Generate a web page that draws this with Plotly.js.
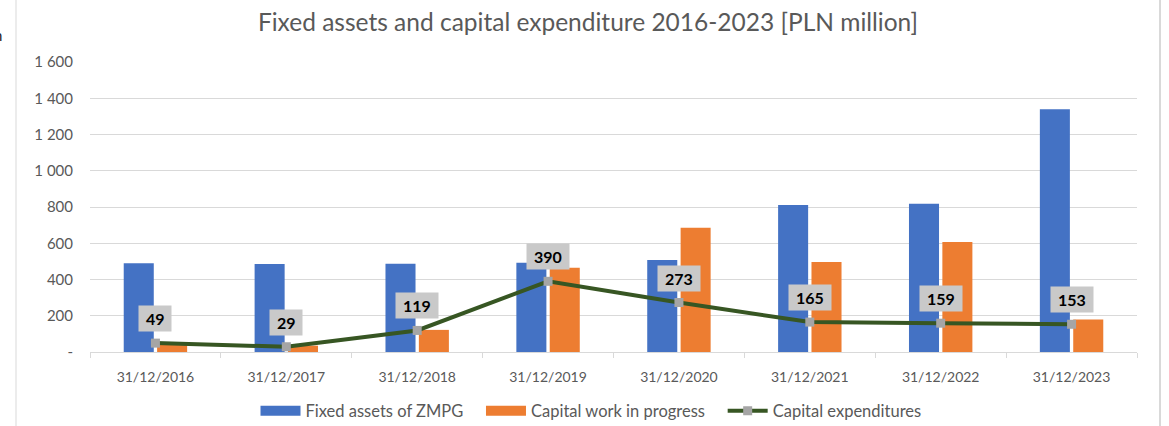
<!DOCTYPE html>
<html>
<head>
<meta charset="utf-8">
<script src="https://cdn.plot.ly/plotly-3.0.1.min.js"></script>
<style>html,body{margin:0;padding:0;background:#fff;}#chart{width:1169px;height:426px;}</style>
</head>
<body>
<div id="chart"></div>
<script>
var categories = ["31/12/2016","31/12/2017","31/12/2018","31/12/2019","31/12/2020","31/12/2021","31/12/2022","31/12/2023"];
var fixedAssets = [490, 485, 487, 493, 507, 811, 818, 1339];
var capitalWIP = [40, 35, 122, 465, 686, 497, 607, 180];
var capex = [49, 29, 119, 390, 273, 165, 159, 153];
var yTickVals = [0, 200, 400, 600, 800, 1000, 1200, 1400, 1600];
var yTickText = ["-", "200", "400", "600", "800", "1 000", "1 200", "1 400", "1 600"];
var seriesNames = ["Fixed assets of ZMPG", "Capital work in progress", "Capital expenditures"];
var titleText = "Fixed assets and capital expenditure 2016-2023 [PLN million]";

var FONT = "Lato, 'Open Sans', sans-serif";
var TXT = "#595959";
var BLUE = "#4472C4", ORANGE = "#ED7D31", GREEN = "#375623", GRAY = "#A5A5A5";
var PAD = "\u00A0\u00A0\u00A0";

var traces = [
  {type:"bar", name:seriesNames[0], x:categories, y:fixedAssets, marker:{color:BLUE}, hoverinfo:"skip", showlegend:false},
  {type:"bar", name:seriesNames[1], x:categories, y:capitalWIP, marker:{color:ORANGE}, hoverinfo:"skip", showlegend:false},
  {type:"scatter", mode:"lines+markers", name:seriesNames[2], x:categories, y:capex,
   line:{color:GREEN, width:4}, marker:{symbol:"square", size:9, color:GRAY}, hoverinfo:"skip", showlegend:false},
  // legend-only entries (wide rectangle swatches like the reference)
  {type:"scatter", mode:"lines", name:seriesNames[0]+PAD, x:[categories[0]], y:[null], line:{color:BLUE, width:10}, hoverinfo:"skip", legendrank:1},
  {type:"scatter", mode:"lines", name:seriesNames[1]+PAD, x:[categories[0]], y:[null], line:{color:ORANGE, width:10}, hoverinfo:"skip", legendrank:2},
  {type:"scatter", mode:"lines+markers", name:seriesNames[2], x:[categories[0]], y:[null], line:{color:GREEN, width:4},
   marker:{symbol:"square", size:9, color:GRAY}, hoverinfo:"skip", legendrank:3}
];

var annotations = categories.map(function(c, i){
  return {x:c, y:capex[i], xref:"x", yref:"y", text:"<b>\u00A0"+capex[i]+"\u00A0</b>", showarrow:false,
    xanchor:"center", yanchor:"bottom", yshift:11,
    font:{family:FONT, size:16, color:"#000"}, bgcolor:"#C9C9C9", borderpad:3};
});
annotations.push({xref:"paper", yref:"paper", x:(4-90)/1047, y:(352-35)/290, xanchor:"right", yanchor:"middle",
  text:"n", showarrow:false, font:{family:FONT, size:15, color:"#222"}});

var shapes = [
  {type:"line", xref:"paper", yref:"paper", x0:(16-90)/1047, x1:(16-90)/1047, y0:-74/290, y1:352/290, line:{color:"#D9D9D9", width:1}},
  {type:"line", xref:"paper", yref:"paper", x0:(1160-90)/1047, x1:(1160-90)/1047, y0:-74/290, y1:352/290, line:{color:"#D9D9D9", width:2}}
];

var layout = {
  width:1169, height:426,
  margin:{l:90, r:32, t:62, b:74, autoexpand:false},
  paper_bgcolor:"#fff", plot_bgcolor:"#fff",
  font:{family:FONT, color:TXT, size:14},
  title:{text:titleText, x:588/1169, xref:"container", xanchor:"center", y:1-22/426, yref:"container", yanchor:"middle",
    font:{family:FONT, size:24.5, color:TXT}},
  barmode:"group", bargap:0.49, bargroupgap:0.1,
  xaxis:{type:"category", showgrid:false, showline:true, linecolor:"#D9D9D9", linewidth:1,
    ticks:"outside", tickson:"boundaries", ticklen:5, tickcolor:"#D9D9D9",
    tickfont:{family:FONT, size:14, color:TXT}, ticklabelstandoff:12, fixedrange:true},
  yaxis:{range:[0,1600], tickvals:yTickVals, ticktext:yTickText, showgrid:true, gridcolor:"#D9D9D9", gridwidth:1,
    zeroline:false, showline:false, ticks:"", tickfont:{family:FONT, size:15, color:TXT}, ticklabelstandoff:16, fixedrange:true},
  showlegend:true,
  legend:{orientation:"h", x:(591-90)/1047, xanchor:"center", y:(352-411)/290, yanchor:"middle",
    font:{family:FONT, size:16.5, color:TXT}, itemwidth:40, traceorder:"normal"},
  annotations:annotations,
  shapes:shapes
};

Plotly.newPlot("chart", traces, layout, {displayModeBar:false, staticPlot:true});
</script>
</body>
</html>
